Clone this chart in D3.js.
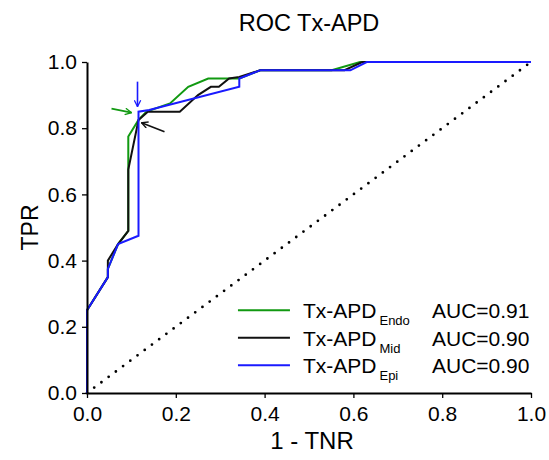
<!DOCTYPE html>
<html lang="en">
<head>
<meta charset="utf-8">
<title>ROC Tx-APD</title>
<script src="https://cdn.jsdelivr.net/npm/d3@7"></script>
<style>
  body { margin: 0; background: #fff; }
  svg text { font-family: "Liberation Sans", Arial, sans-serif; fill: #000; }
</style>
</head>
<body>
<script>
// ROC points (1 - TNR, TPR)
var endoX = [0, 0, 0.047, 0.047, 0.07, 0.093, 0.093, 0.116, 0.134, 0.187, 0.228, 0.273, 0.343, 0.39, 0.551, 0.615, 1];
var endoY = [0, 0.25, 0.35, 0.375, 0.45, 0.49, 0.775, 0.825, 0.85, 0.875, 0.925, 0.95, 0.95, 0.975, 0.975, 1, 1];

var midX = [0, 0, 0.047, 0.047, 0.07, 0.093, 0.093, 0.116, 0.137, 0.209, 0.25, 0.279, 0.297, 0.32, 0.343, 0.39, 0.58, 0.62, 1];
var midY = [0, 0.25, 0.35, 0.4, 0.45, 0.49, 0.675, 0.825, 0.85, 0.85, 0.9, 0.925, 0.925, 0.95, 0.955, 0.975, 0.975, 1, 1];

var epiX = [0, 0, 0.047, 0.047, 0.07, 0.116, 0.116, 0.14, 0.343, 0.343, 0.39, 0.593, 0.63, 1];
var epiY = [0, 0.25, 0.35, 0.375, 0.45, 0.475, 0.85, 0.855, 0.925, 0.95, 0.975, 0.975, 1, 1];

var seriesNames = ["Endo", "Mid", "Epi"];
var seriesAUC = ["0.91", "0.90", "0.90"];
var seriesColors = ["#119911", "#111111", "#1a1aff"];

var tickValues = [0, 0.2, 0.4, 0.6, 0.8, 1.0];

// optimal cut-off point the arrows point at
var cutX = 0.116, cutY = 0.85;

var margin = {top: 62, right: 18, bottom: 67, left: 87};
var W = 549, H = 460;
var w = W - margin.left - margin.right;
var h = H - margin.top - margin.bottom;

var svg = d3.select("body").append("svg")
    .attr("width", W).attr("height", H);

var defs = svg.append("defs");
seriesColors.forEach(function(c, i) {
  defs.append("marker")
    .attr("id", "arr" + i)
    .attr("viewBox", "0 0 10 10")
    .attr("refX", 9).attr("refY", 5)
    .attr("markerWidth", 8).attr("markerHeight", 8)
    .attr("markerUnits", "userSpaceOnUse")
    .attr("orient", "auto")
    .append("path")
    .attr("d", "M1,1 L9,5 L1,9")
    .attr("fill", "none")
    .attr("stroke", c)
    .attr("stroke-width", 1.6);
});

var g = svg.append("g")
    .attr("transform", "translate(" + margin.left + "," + margin.top + ")");

var x = d3.scaleLinear().domain([0, 1]).range([0, w]);
var y = d3.scaleLinear().domain([0, 1]).range([h, 0]);

// chance diagonal
g.append("line")
  .attr("x1", x(0)).attr("y1", y(0))
  .attr("x2", x(1)).attr("y2", y(1))
  .attr("stroke", "#000")
  .attr("stroke-width", 2.8)
  .attr("stroke-linecap", "round")
  .attr("stroke-dasharray", "0 9")
  .attr("stroke-dashoffset", -9);

var line = d3.line()
  .x(function(d) { return x(d[0]); })
  .y(function(d) { return y(d[1]); });

var series = [
  d3.zip(endoX, endoY),
  d3.zip(midX, midY),
  d3.zip(epiX, epiY)
];

series.forEach(function(pts, i) {
  g.append("path")
    .datum(pts)
    .attr("d", line)
    .attr("fill", "none")
    .attr("stroke", seriesColors[i])
    .attr("stroke-width", 2)
    .attr("stroke-linejoin", "miter");
});

// axes
var xAxis = d3.axisBottom(x).tickValues(tickValues).tickFormat(d3.format(".1f")).tickSize(5).tickSizeOuter(0);
var yAxis = d3.axisLeft(y).tickValues(tickValues).tickFormat(d3.format(".1f")).tickSize(5).tickSizeOuter(0);

var gx = g.append("g").attr("transform", "translate(0," + h + ")").call(xAxis);
var gy = g.append("g").call(yAxis);

[gx, gy].forEach(function(a) {
  a.select(".domain").attr("stroke", "#000").attr("stroke-width", 2);
  a.selectAll(".tick line").attr("stroke", "#000").attr("stroke-width", 1.3);
  a.selectAll(".tick text").attr("font-size", 21).style("font-family", "'Liberation Sans', Arial, sans-serif");
});
gx.selectAll(".tick text").attr("dy", "0.95em");
gy.selectAll(".tick text").attr("dx", "-0.1em");

// arrows at cut-off
var px = x(cutX), py = y(cutY);
var arrows = [
  {x1: px - 27, y1: py - 3, x2: px - 7, y2: py + 1, c: 0},
  {x1: px + 26, y1: py + 20, x2: px + 3, y2: py + 11, c: 1},
  {x1: px - 1, y1: py - 30, x2: px - 1, y2: py - 5, c: 2}
];
arrows.forEach(function(a) {
  g.append("line")
    .attr("x1", a.x1).attr("y1", a.y1)
    .attr("x2", a.x2).attr("y2", a.y2)
    .attr("stroke", seriesColors[a.c])
    .attr("stroke-width", 1.6)
    .attr("marker-end", "url(#arr" + a.c + ")");
});

// titles
svg.append("text")
  .attr("x", margin.left + w / 2).attr("y", 31)
  .attr("text-anchor", "middle")
  .attr("font-size", 23.5)
  .text("ROC Tx-APD");

svg.append("text")
  .attr("x", margin.left + w / 2 + 3).attr("y", 449)
  .attr("text-anchor", "middle")
  .attr("font-size", 24)
  .text("1 - TNR");

svg.append("text")
  .attr("transform", "translate(38," + (margin.top + h / 2) + ") rotate(-90)")
  .attr("text-anchor", "middle")
  .attr("font-size", 23)
  .text("TPR");

// legend
var leg = g.append("g").attr("transform", "translate(" + (x(0.34)) + "," + (y(0.25)) + ")");
seriesNames.forEach(function(n, i) {
  var row = leg.append("g").attr("transform", "translate(0," + (i * 27.5) + ")");
  row.append("line")
    .attr("x1", 0).attr("x2", 52)
    .attr("y1", 0).attr("y2", 0)
    .attr("stroke", seriesColors[i])
    .attr("stroke-width", 2);
  var t = row.append("text")
    .attr("x", 65).attr("y", 8)
    .attr("font-size", 21);
  t.append("tspan").text("Tx-APD");
  t.append("tspan").attr("font-size", 13).attr("dx", 3).attr("dy", 7).text(n);
  row.append("text")
    .attr("x", 194).attr("y", 8)
    .attr("font-size", 21)
    .text("AUC=" + seriesAUC[i]);
});
</script>
</body>
</html>
